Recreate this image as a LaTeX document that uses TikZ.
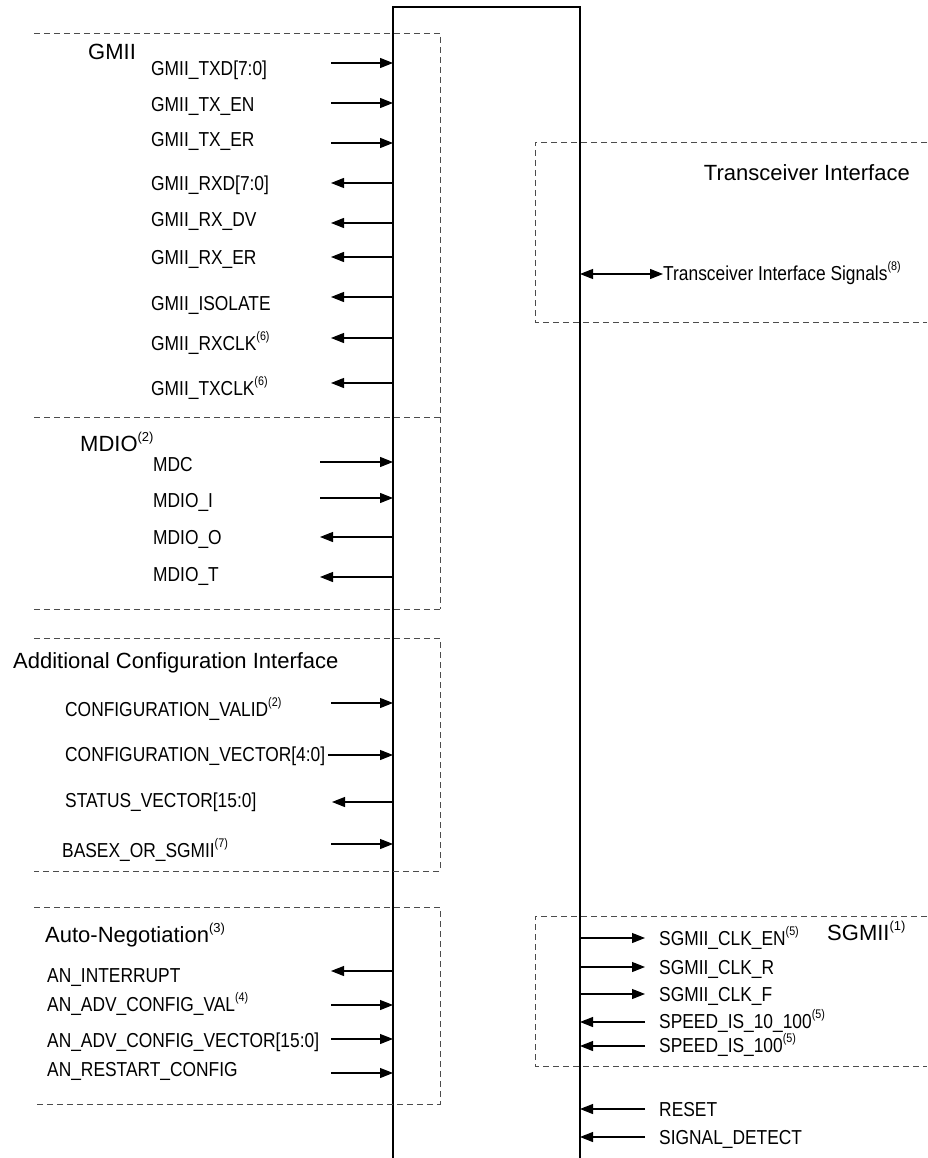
\documentclass[tikz,border=0pt]{standalone}
\usepackage{fontspec}
\setmainfont{Liberation Sans}
\newfontfamily\labfamily[FakeStretch=0.86]{Liberation Sans}
\usetikzlibrary{arrows.meta}
\newcommand\lab{\labfamily\fontsize{20.2}{24}\selectfont}
\newcommand\ttl{\fontsize{22}{26}\selectfont}
\newcommand\supl[1]{\raisebox{9.5pt}{\fontsize{12.5}{12.5}\selectfont(#1)}}
\newcommand\supt[1]{\raisebox{10pt}{\fontsize{13}{13}\selectfont(#1)}}
\begin{document}
\begin{tikzpicture}[x=1pt,y=-1pt,
  sig/.style={font=\lab, anchor=base west, inner sep=0pt},
  ttlnode/.style={font=\ttl, anchor=base west, inner sep=0pt},
  grp/.style={draw=black!70, line width=0.9pt, dash pattern=on 6pt off 4pt},
  wire/.style={line width=1.1pt, -{Triangle[length=13pt,width=10pt]}},
  biwire/.style={line width=1.1pt, {Triangle[length=13pt,width=10pt]}-{Triangle[length=13pt,width=10pt]}},
  core/.style={line width=2pt}]
\useasboundingbox (0,0) rectangle (927,1158);
% core block
\coordinate (bl) at (393,0);
\coordinate (br) at (580,0);
\coordinate (cbl) at (393,1170);
\coordinate (ctl) at (393,7);
\coordinate (ctr) at (580,7);
\coordinate (cbr) at (580,1170);
\draw[core] (cbl) -- (ctl) -- (ctr) -- (cbr);
% dashed groups
\draw[grp] (34,33) -- (440,33) -- (440,417);
\draw[grp] (34,417) -- (440,417);
\draw[grp] (440,417) -- (440,609);
\draw[grp] (34,609) -- (440,609);
\draw[grp] (34,638) -- (440,638) -- (440,871) -- (34,871);
\draw[grp] (34,907) -- (440,907) -- (440,1104) -- (34,1104);
\draw[grp] (927,142) -- (535,142) -- (535,322) -- (927,322);
\draw[grp] (927,916) -- (535,916) -- (535,1066) -- (927,1066);
% titles
\node[ttlnode] (tGMII) at (88,60) {GMII};
\node[ttlnode] (tMDIO) at (80,451) {MDIO\supt{2}};
\node[ttlnode] (tACI) at (13,668) {Additional Configuration Interface};
\node[ttlnode] (tAN) at (45,942) {Auto-Negotiation\supt{3}};
\node[ttlnode, anchor=base east] (tTI) at (910,181) {Transceiver Interface};
\node[ttlnode] (tSG) at (827,940) {SGMII\supt{1}};
% left labels
\node[sig] (l1) at (151,76) {GMII\_TXD[7:0]};
\node[sig] (l2) at (151,111.5) {GMII\_TX\_EN};
\node[sig] (l3) at (151,147) {GMII\_TX\_ER};
\node[sig] (l4) at (151,191) {GMII\_RXD[7:0]};
\node[sig] (l5) at (151,227) {GMII\_RX\_DV};
\node[sig] (l6) at (151,264) {GMII\_RX\_ER};
\node[sig] (l7) at (151,310) {GMII\_ISOLATE};
\node[sig] (l8) at (151,350) {GMII\_RXCLK\supl{6}};
\node[sig] (l9) at (151,395) {GMII\_TXCLK\supl{6}};
\node[sig] (m1) at (153,471) {MDC};
\node[sig] (m2) at (153,507) {MDIO\_I};
\node[sig] (m3) at (153,544) {MDIO\_O};
\node[sig] (m4) at (153,581) {MDIO\_T};
\node[sig] (c1) at (65,716) {CONFIGURATION\_VALID\supl{2}};
\node[sig] (c2) at (65,761) {CONFIGURATION\_VECTOR[4:0]};
\node[sig] (c3) at (65,807) {STATUS\_VECTOR[15:0]};
\node[sig] (c4) at (62,857) {BASEX\_OR\_SGMII\supl{7}};
\node[sig] (a1) at (47,982) {AN\_INTERRUPT};
\node[sig] (a2) at (47,1011) {AN\_ADV\_CONFIG\_VAL\supl{4}};
\node[sig] (a3) at (47,1047) {AN\_ADV\_CONFIG\_VECTOR[15:0]};
\node[sig] (a4) at (47,1076) {AN\_RESTART\_CONFIG};
% right labels
\node[sig] (r0) at (663,280) {Transceiver Interface Signals\supl{8}};
\node[sig] (r1) at (659,945) {SGMII\_CLK\_EN\supl{5}};
\node[sig] (r2) at (659,974) {SGMII\_CLK\_R};
\node[sig] (r3) at (659,1001) {SGMII\_CLK\_F};
\node[sig] (r4) at (659,1028) {SPEED\_IS\_10\_100\supl{5}};
\node[sig] (r5) at (659,1052) {SPEED\_IS\_100\supl{5}};
\node[sig] (r6) at (659,1116) {RESET};
\node[sig] (r7) at (659,1144) {SIGNAL\_DETECT};
% left inputs (into block)
\foreach \i/\x/\y in {1/331/63, 2/331/103, 3/331/143, 4/320/462, 5/320/498,
  6/331/703, 7/328/755, 8/331/844, 9/331/1005, 10/331/1039, 11/331/1073} {
  \coordinate (li\i) at (\x,\y);
  \draw[wire] (li\i) -- (li\i -| bl);
}
% left outputs (out of block)
\foreach \i/\x/\y in {1/331/183, 2/331/223, 3/331/257, 4/331/297, 5/331/338,
  6/331/383, 7/320/537, 8/320/577, 9/332/802, 10/331/971} {
  \coordinate (lo\i) at (\x,\y);
  \draw[wire] (lo\i -| bl) -- (lo\i);
}
% right outputs
\foreach \i/\y in {1/938, 2/967, 3/994} {
  \coordinate (ro\i) at (645,\y);
  \draw[wire] (ro\i -| br) -- (ro\i);
}
% right inputs
\foreach \i/\y in {1/1022, 2/1046, 3/1109, 4/1137} {
  \coordinate (ri\i) at (645,\y);
  \draw[wire] (ri\i) -- (ri\i -| br);
}
% transceiver bidirectional
\coordinate (tx) at (663,274);
\draw[biwire] (tx -| br) -- (tx);
\end{tikzpicture}
\end{document}
